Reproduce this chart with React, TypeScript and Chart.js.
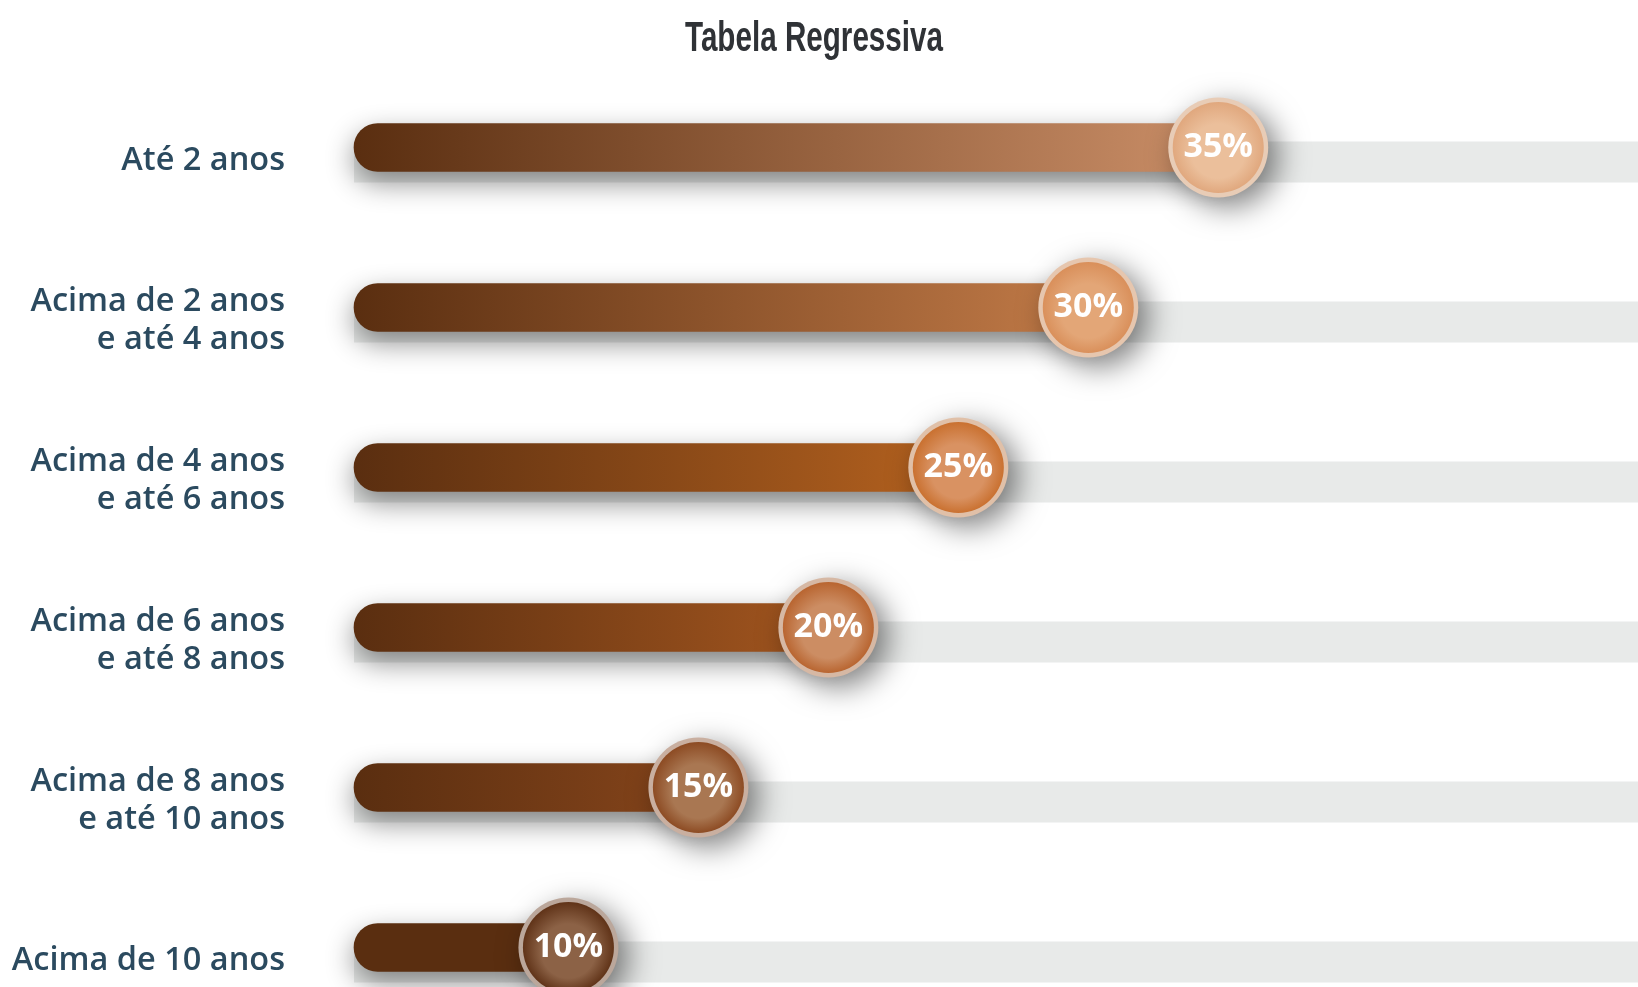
import React, { useEffect, useRef } from 'react';
import { Chart, registerables } from 'chart.js';

Chart.register(...registerables);

// ---------------- data ----------------
const TITLE = 'Tabela Regressiva';
const CATEGORIES: (string | string[])[] = [
  'Até 2 anos',
  ['Acima de 2 anos', 'e até 4 anos'],
  ['Acima de 4 anos', 'e até 6 anos'],
  ['Acima de 6 anos', 'e até 8 anos'],
  ['Acima de 8 anos', 'e até 10 anos'],
  'Acima de 10 anos',
];
const RATES: number[] = [35, 30, 25, 20, 15, 10];
const RATE_LABELS: string[] = ['35%', '30%', '25%', '20%', '15%', '10%'];
const X_MIN = 1.75;
const X_MAX = 51.15;

// ---------------- styles ----------------
const BAR_START = '#5a2e10';
const BAR_END = ['#cb8f68', '#c27b48', '#b5621f', '#a3561f', '#86451b', '#5a2e10'];
const DOT_CENTER = ['#ebbf9b', '#e3a677', '#d99262', '#cc8d63', '#a97752', '#8c6246'];
const DOT_EDGE = ['#e0a77d', '#d98f5a', '#c9702f', '#b8642f', '#8c4a22', '#5f3217'];
const DOT_RING = ['#e8ccb6', '#e6c6ae', '#e0c0a8', '#d6b8a4', '#c9afa0', '#bba79b'];
const TRACK_COLOR = '#e8eae9';
const LABEL_COLOR = '#2b4a5f';
const TITLE_COLOR = '#2f3236';

const titlePlugin = {
  id: 'condensedTitle',
  afterDraw(chart: any) {
    const { ctx } = chart;
    ctx.save();
    ctx.font = 'bold 42px "Liberation Sans", Arial, sans-serif';
    ctx.fillStyle = TITLE_COLOR;
    ctx.textAlign = 'center';
    ctx.textBaseline = 'alphabetic';
    const w = ctx.measureText(TITLE).width;
    const sx = 258 / w;
    ctx.translate(chart.width / 2 - 5, 51);
    ctx.scale(sx, 1);
    ctx.fillText(TITLE, 0, 0);
    ctx.restore();
  },
};

const trackPlugin = {
  id: 'track',
  beforeDatasetsDraw(chart: any) {
    const { ctx, chartArea, scales } = chart;
    const x = scales.x;
    const y = scales.y;
    const left = x.getPixelForValue(X_MIN);
    ctx.save();
    ctx.fillStyle = TRACK_COLOR;
    RATES.forEach((_, i) => {
      const cy = y.getPixelForValue(i);
      ctx.fillRect(left, cy - 6, chartArea.right - left, 41);
    });
    ctx.restore();
  },
  beforeDatasetDraw(chart: any) {
    const ctx = chart.ctx;
    ctx.save();
    ctx.shadowColor = 'rgba(0,0,0,0.45)';
    ctx.shadowBlur = 28;
    ctx.shadowOffsetX = 0;
    ctx.shadowOffsetY = 11;
  },
  afterDatasetDraw(chart: any) {
    chart.ctx.restore();
  },
};

const dotPlugin = {
  id: 'dots',
  afterDatasetsDraw(chart: any) {
    const { ctx } = chart;
    const meta = chart.getDatasetMeta(0);
    meta.data.forEach((bar: any, i: number) => {
      const cx = bar.x;
      const cy = bar.y;
      ctx.save();
      ctx.shadowColor = 'rgba(0,0,0,0.5)';
      ctx.shadowBlur = 30;
      ctx.shadowOffsetX = 10;
      ctx.shadowOffsetY = 9;
      ctx.beginPath();
      ctx.arc(cx, cy, 50, 0, Math.PI * 2);
      ctx.fillStyle = DOT_RING[i];
      ctx.fill();
      ctx.restore();

      ctx.save();
      const g = ctx.createRadialGradient(cx, cy + 8, 4, cx, cy, 46);
      g.addColorStop(0, DOT_CENTER[i]);
      g.addColorStop(0.55, DOT_CENTER[i]);
      g.addColorStop(1, DOT_EDGE[i]);
      ctx.beginPath();
      ctx.arc(cx, cy, 45.5, 0, Math.PI * 2);
      ctx.fillStyle = g;
      ctx.fill();
      ctx.fillStyle = '#ffffff';
      ctx.font = 'bold 34px "Open Sans", "Noto Sans", sans-serif';
      ctx.textAlign = 'center';
      ctx.textBaseline = 'middle';
      ctx.fillText(RATE_LABELS[i], cx, cy);
      ctx.restore();
    });
  },
};

export default function App() {
  const ref = useRef<HTMLCanvasElement | null>(null);

  useEffect(() => {
    if (!ref.current) return;
    const chart = new Chart(ref.current, {
      type: 'bar',
      data: {
        labels: CATEGORIES as any,
        datasets: [
          {
            data: RATES,
            base: X_MIN,
            barThickness: 48,
            clip: false as any,
            borderSkipped: false,
            borderWidth: 0,
            borderRadius: { topLeft: 24, bottomLeft: 24, topRight: 0, bottomRight: 0 },
            backgroundColor: (c: any) => {
              const chartRef = c.chart;
              const i = c.dataIndex;
              const xs = chartRef.scales?.x;
              if (!xs || i === undefined) return BAR_START;
              const x0 = xs.getPixelForValue(X_MIN);
              const x1 = xs.getPixelForValue(RATES[i]);
              if (!isFinite(x0) || !isFinite(x1) || x1 <= x0) return BAR_START;
              const g = chartRef.ctx.createLinearGradient(x0, 0, x1, 0);
              g.addColorStop(0, BAR_START);
              g.addColorStop(1, BAR_END[i]);
              return g;
            },
          } as any,
        ],
      },
      options: {
        indexAxis: 'y',
        animation: false,
        responsive: true,
        maintainAspectRatio: false,
        layout: { padding: { top: 147.5, bottom: 39.5, left: 0, right: 0 } },
        plugins: {
          legend: { display: false },
          tooltip: { enabled: false },
          title: { display: false },
        },
        scales: {
          x: {
            type: 'linear',
            display: false,
            min: X_MIN,
            max: X_MAX,
          },
          y: {
            type: 'category',
            offset: false,
            grid: { display: false, drawTicks: false },
            border: { display: false },
            ticks: {
              autoSkip: false,
              color: LABEL_COLOR,
              padding: 69,
              labelOffset: 13.5,
              font: { family: '"Open Sans", "Noto Sans", sans-serif', size: 32.5, weight: '600', lineHeight: 1.16 },
            },
            afterFit: (s: any) => {
              s.width = 354;
              s.paddingTop = 0;
              s.paddingBottom = 0;
            },
          },
        },
      },
      plugins: [trackPlugin, dotPlugin, titlePlugin],
    });
    return () => chart.destroy();
  }, []);

  return (
    <div style={{ position: 'fixed', left: 0, top: 0, width: 1638, height: 987, background: '#ffffff' }}>
      <canvas ref={ref} />
    </div>
  );
}
